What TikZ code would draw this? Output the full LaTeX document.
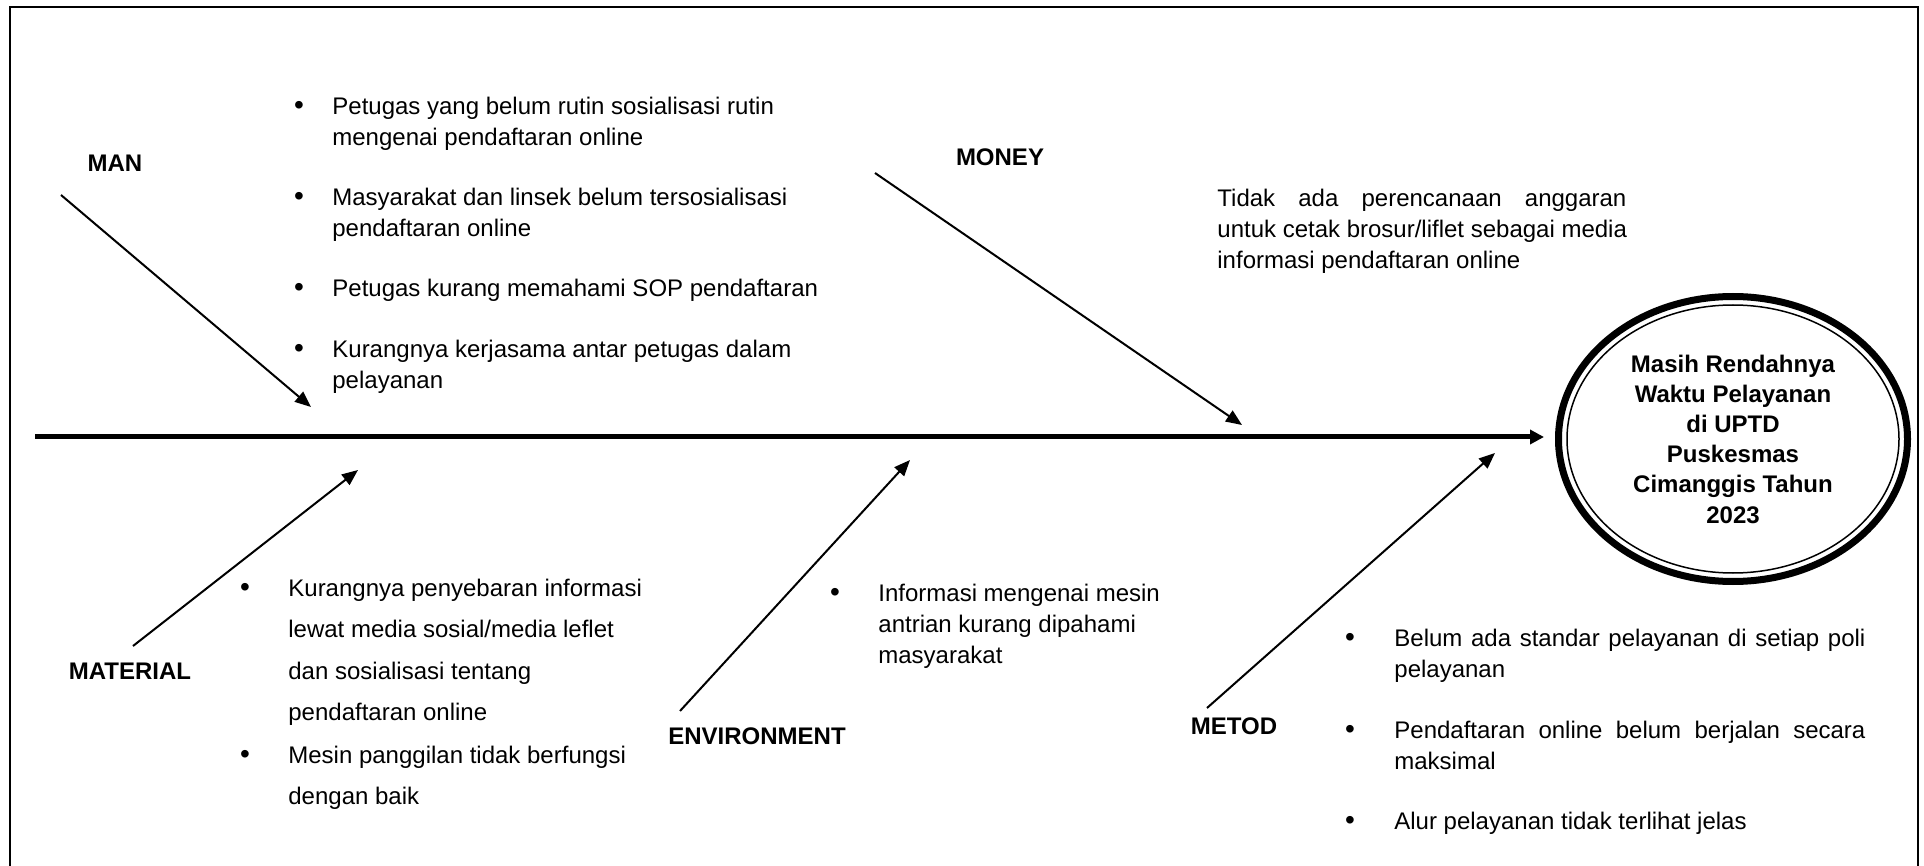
\documentclass[tikz,border=0pt]{standalone}
\usepackage{fontspec}
\setmainfont{Liberation Sans}
\usetikzlibrary{arrows.meta,shapes.geometric}
\begin{document}
\begin{tikzpicture}[x=0.5pt,y=-0.5pt,
  txt/.style={font=\fontsize{12}{15.25}\selectfont, inner sep=0pt, anchor=base west, align=left},
  txtwide/.style={txt, font=\fontsize{12}{20.75}\selectfont},
  txtmid/.style={txt, font=\fontsize{12}{15.5}\selectfont},
  bul/.style={font=\fontsize{14}{15.25}\selectfont, inner sep=0pt, anchor=base},
  lbl/.style={font=\fontsize{12}{15}\selectfont\bfseries, inner sep=0pt, anchor=center},
  bone/.style={line width=1pt, -{Triangle[length=8pt,width=6.5pt]}},
  spine/.style={line width=2.5pt, -{Triangle[length=7pt,width=7pt]}},
]
\useasboundingbox (0,0) rectangle (1924,866);
% frame
\draw[line width=1pt] (10,866) -- (10,7) -- (1918,7) -- (1918,866);

% effect (head)
\node[draw, ellipse, line width=3.5pt, minimum width=174.5pt, minimum height=142.5pt,
      inner sep=0pt, align=center, font=\fontsize{12}{15.1}\selectfont\bfseries]
      (effect) at (1733,439)
      {Masih Rendahnya\\Waktu Pelayanan\\di UPTD\\Puskesmas\\Cimanggis Tahun\\2023};
\draw[line width=0.75pt] (effect.center) ellipse [x radius=83pt, y radius=67pt];

% spine
\coordinate (tail) at (35,437);
\draw[spine, shorten >=5.5pt] (tail) -- (tail -| effect.west);

% category labels
\node[lbl] (man) at (115,163) {MAN};
\node[lbl] (money) at (1000,157) {MONEY};
\node[lbl] (material) at (130,671) {MATERIAL};
\node[lbl] (env) at (757,736) {ENVIRONMENT};
\node[lbl] (metod) at (1234,726) {METOD};

% bones
\coordinate (manA) at (61,195);   \coordinate (manB) at (311,407);
\coordinate (monA) at (875,173);  \coordinate (monB) at (1242,425);
\coordinate (matA) at (133,646);  \coordinate (matB) at (358,470);
\coordinate (envA) at (680,711);  \coordinate (envB) at (910,460);
\coordinate (metA) at (1207,708); \coordinate (metB) at (1495,453);
\draw[bone] (manA) -- (manB);
\draw[bone] (monA) -- (monB);
\draw[bone] (matA) -- (matB);
\draw[bone] (envA) -- (envB);
\draw[bone] (metA) -- (metB);

% MAN causes (text nodes anchored at the baseline of their last line)
\node[bul] (manb1) at (299,115) {\textbullet};
\node[txt] (man1) at (332,145.5) {Petugas yang belum rutin sosialisasi rutin\\mengenai pendaftaran online};
\node[bul] (manb2) at (299,206) {\textbullet};
\node[txt] (man2) at (332,236.5) {Masyarakat dan linsek belum tersosialisasi\\pendaftaran online};
\node[bul] (manb3) at (299,297) {\textbullet};
\node[txt] (man3) at (332,297) {Petugas kurang memahami SOP pendaftaran};
\node[bul] (manb4) at (299,358) {\textbullet};
\node[txt] (man4) at (332,388.5) {Kurangnya kerjasama antar petugas dalam\\pelayanan};

% MONEY cause
\node[txtmid] (mon1) at (1217,269) {\makebox[204.5pt][s]{Tidak ada perencanaan anggaran}\\untuk cetak brosur/liflet sebagai media\\informasi pendaftaran online};

% MATERIAL causes
\node[bul] (matb1) at (245,596) {\textbullet};
\node[txtwide] (mat1) at (288,720.5) {Kurangnya penyebaran informasi\\lewat media sosial/media leflet\\dan sosialisasi tentang\\pendaftaran online};
\node[bul] (matb2) at (245,763) {\textbullet};
\node[txtwide] (mat2) at (288,804.5) {Mesin panggilan tidak berfungsi\\dengan baik};

% ENVIRONMENT cause
\node[bul] (envb1) at (835,601) {\textbullet};
\node[txtmid] (env1) at (878,663) {Informasi mengenai mesin\\antrian kurang dipahami\\masyarakat};

% METOD causes
\node[bul] (metb1) at (1350,646) {\textbullet};
\node[txtmid] (met1) at (1394,677) {\makebox[235.5pt][s]{Belum ada standar pelayanan di setiap poli}\\pelayanan};
\node[bul] (metb2) at (1350,738) {\textbullet};
\node[txtmid] (met2) at (1394,769) {\makebox[235.5pt][s]{Pendaftaran online belum berjalan secara}\\maksimal};
\node[bul] (metb3) at (1350,829) {\textbullet};
\node[txtmid] (met3) at (1394,829) {Alur pelayanan tidak terlihat jelas};
\end{tikzpicture}
\end{document}
